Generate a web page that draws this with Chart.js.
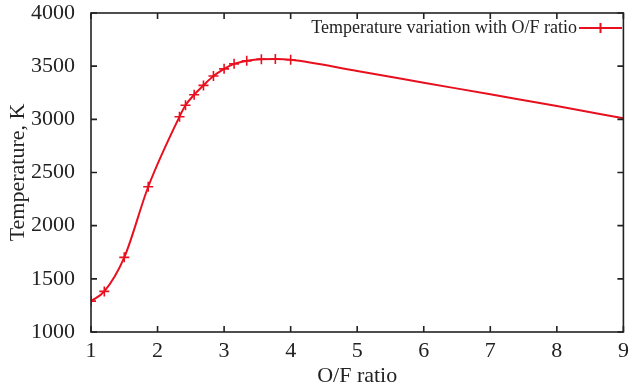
<!DOCTYPE html>
<html>
<head>
<meta charset="utf-8">
<script src="https://cdn.jsdelivr.net/npm/chart.js@4"></script>
<style>
html,body{margin:0;padding:0;background:#fff;}
#wrap{width:630px;height:387px;position:relative;}
</style>
</head>
<body>
<div id="wrap"><canvas id="c"></canvas></div>
<script>
const ofRatio = [1.0, 1.2, 1.5, 1.86, 2.33, 2.42, 2.55, 2.69, 2.84, 3.0, 3.15, 3.34, 3.56, 3.77, 4.0, 5, 6, 7, 8, 9];
const temperature = [1290, 1382, 1702, 2366, 3025, 3132, 3231, 3319, 3407, 3475, 3522, 3550, 3566, 3568, 3560, 3455, 3345, 3235, 3125, 3010];
const markerShown = [1,1,1,1,1,1,1,1,1,1,1,1,1,1,1,0,0,0,0,0];
const xTicks = [1,2,3,4,5,6,7,8,9];
const yTicks = [1000,1500,2000,2500,3000,3500,4000];
const seriesLabel = 'Temperature variation with O/F ratio';
const xTitle = 'O/F ratio';
const yTitle = 'Temperature, K';

const RED = '#e8101e';
const FONT = "'Liberation Serif', 'Times New Roman', serif";

const framePlugin = {
  id: 'frame',
  afterDraw(chart) {
    const {ctx, scales} = chart;
    const x0 = scales.x.getPixelForValue(1), x1 = scales.x.getPixelForValue(9);
    const y0 = scales.y.getPixelForValue(1000), y1 = scales.y.getPixelForValue(4000);
    ctx.save();
    ctx.strokeStyle = '#222';
    ctx.lineWidth = 1.6;
    ctx.strokeRect(x0, y1, x1 - x0, y0 - y1);
    const L = 6;
    ctx.beginPath();
    xTicks.forEach(v => {
      const x = scales.x.getPixelForValue(v);
      ctx.moveTo(x, y0); ctx.lineTo(x, y0 - L);
      ctx.moveTo(x, y1); ctx.lineTo(x, y1 + L);
    });
    yTicks.forEach(v => {
      const y = scales.y.getPixelForValue(v);
      ctx.moveTo(x0, y); ctx.lineTo(x0 + L, y);
      ctx.moveTo(x1, y); ctx.lineTo(x1 - L, y);
    });
    ctx.stroke();
    // x tick labels
    ctx.font = '22px ' + FONT;
    ctx.fillStyle = '#222';
    ctx.textAlign = 'center';
    ctx.textBaseline = 'alphabetic';
    xTicks.forEach(v => {
      ctx.fillText(String(v), scales.x.getPixelForValue(v), y0 + 25);
    });
    // legend
    const ds = chart.data.datasets[0];
    ctx.font = '18px ' + FONT;
    ctx.textAlign = 'right';
    ctx.textBaseline = 'middle';
    const ly = y1 + 15;
    const lx1 = 579, lx2 = 622;
    ctx.fillText(ds.label, lx1 - 2, ly);
    ctx.strokeStyle = RED;
    ctx.lineWidth = 2;
    ctx.beginPath();
    ctx.moveTo(lx1, ly); ctx.lineTo(lx2, ly);
    const mx = (lx1 + lx2) / 2;
    ctx.moveTo(mx, ly - 5); ctx.lineTo(mx, ly + 5);
    ctx.stroke();
    ctx.restore();
  }
};

new Chart(document.getElementById('c'), {
  type: 'line',
  data: {
    datasets: [{
      label: seriesLabel,
      data: ofRatio.map((x, i) => ({x, y: temperature[i]})),
      borderColor: RED,
      backgroundColor: RED,
      borderWidth: 2,
      pointStyle: 'cross',
      pointRadius: markerShown.map(m => m ? 5 : 0),
      pointBorderWidth: 1.6,
      pointBorderColor: RED,
      cubicInterpolationMode: 'monotone',
      fill: false
    }]
  },
  options: {
    responsive: true,
    maintainAspectRatio: false,
    animation: false,
    layout: {padding: {left: 0, right: 2, top: 13, bottom: 0}},
    plugins: {legend: {display: false}, tooltip: {enabled: false}},
    scales: {
      x: {
        type: 'linear', min: 1, max: 9,
        afterBuildTicks(s) { s.ticks = xTicks.map(v => ({value: v})); },
        grid: {display: false},
        border: {display: false},
        ticks: {display: false},
        title: {display: true, text: xTitle, color: '#222', font: {family: FONT, size: 22}, padding: {top: 0, bottom: -2}},
        afterFit(s) { s.height = 55; s.paddingLeft = 0; s.paddingRight = 0; }
      },
      y: {
        type: 'linear', min: 1000, max: 4000,
        afterBuildTicks(s) { s.ticks = yTicks.map(v => ({value: v})); },
        grid: {display: false},
        border: {display: false},
        ticks: {color: '#222', font: {family: FONT, size: 22}, padding: 8,
                callback: v => String(v)},
        title: {display: true, text: yTitle, color: '#222', font: {family: FONT, size: 22}, padding: {top: 5, bottom: 2}},
        afterFit(s) { s.width = 91; s.paddingTop = 0; s.paddingBottom = 0; }
      }
    }
  },
  plugins: [framePlugin]
});
</script>
</body>
</html>
